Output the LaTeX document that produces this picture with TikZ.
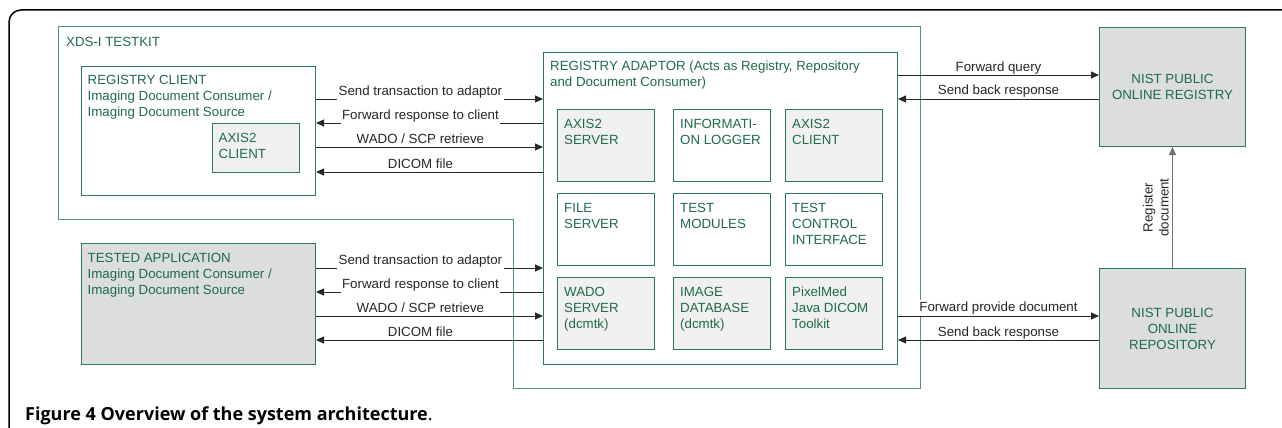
\documentclass[tikz,border=0pt]{standalone}
\usepackage{fontspec}
\setmainfont{Liberation Sans}
\newfontfamily\capfont{Open Sans}
\usetikzlibrary{arrows.meta,positioning}

\definecolor{boxgreen}{HTML}{2B7A5A}
\definecolor{kitgreen}{HTML}{4E9279}
\definecolor{txtgreen}{HTML}{1E6B48}
\definecolor{lightbox}{HTML}{F0F0F0}
\definecolor{darkbox}{HTML}{DCDDDF}
\definecolor{msgline}{HTML}{262626}

\newcommand{\fs}{\fontsize{13.3}{16}\selectfont}

\tikzset{
  box/.style={draw=boxgreen, line width=1pt, anchor=north west, inner sep=0pt},
  txt/.style={text=txtgreen, anchor=north west, align=left, inner sep=0pt, font=\fs},
  ctxt/.style={text=txtgreen, align=center, inner sep=0pt, font=\fs},
  fw/.style={draw=msgline, line width=0.9pt, -{Triangle[length=8pt,width=7pt]}},
  bw/.style={draw=msgline, line width=0.9pt, {Triangle[length=8pt,width=7pt]}-},
  lbl/.style={fill=white, inner sep=1.5pt, anchor=base, font=\fs, text=black!85},
}

\begin{document}
\begin{tikzpicture}[x=1pt,y=-1pt]
  \useasboundingbox (0,0) rectangle (1282,428);
  % figure frame
  \draw[line width=1.5pt, rounded corners=12pt] (1300,10) -- (9,10) -- (9,450);

  % testkit outline
  \draw[kitgreen, line width=1pt] (58,27) -- (920,27) -- (920,388) -- (513,388)
    -- (513,219) -- (58,219) -- cycle;
  \node[txt] (kit) at (66,37) {XDS-I TESTKIT};

  % clients
  \node[box, minimum width=234, minimum height=129] (rc) at (81,66) {};
  \node[txt] (rctxt) at (87.5,75) {REGISTRY CLIENT\\Imaging Document Consumer /\\Imaging Document Source};
  \node[box, fill=lightbox, minimum width=87, minimum height=49] (ax) at (212,123) {};
  \node[txt] (axtxt) at (218.5,133) {AXIS2\\CLIENT};

  \node[box, fill=darkbox, minimum width=234, minimum height=121] (ta) at (81,243) {};
  \node[txt] (tatxt) at (87.5,253) {TESTED APPLICATION\\Imaging Document Consumer /\\Imaging Document Source};

  % adaptor
  \node[box, minimum width=354, minimum height=312] (ad) at (543,52) {};
  \node[txt] (adtxt) at (550,60.5) {REGISTRY ADAPTOR (Acts as Registry, Repository\\and Document Consumer)};

  \foreach \x/\y/\c/\n/\t in {
      557/109/lightbox/as/{AXIS2\\SERVER},
      673/109/white/il/{INFORMATI-\\ON LOGGER},
      785/109/lightbox/ac/{AXIS2\\CLIENT},
      557/193/white/fsv/{FILE\\SERVER},
      673/193/white/tm/{TEST\\MODULES},
      785/193/white/tc/{TEST\\CONTROL\\INTERFACE},
      557/277/lightbox/ws/{WADO\\SERVER\\(dcmtk)},
      673/277/lightbox/idb/{IMAGE\\DATABASE\\(dcmtk)},
      785/277/lightbox/pm/{PixelMed\\Java DICOM\\Toolkit}}
  {
    \node[box, fill=\c, minimum width=97, minimum height=72] (\n) at (\x,\y) {};
    \node[txt] (\n txt) at ([shift={(7,10)}]\n.north west) {\t};
  }

  % NIST services
  \node[box, fill=darkbox, minimum width=146, minimum height=119] (reg) at (1099,27) {};
  \node[ctxt] (regtxt) at (reg.center) {NIST PUBLIC\\ONLINE REGISTRY};
  \node[box, fill=darkbox, minimum width=146, minimum height=120] (repo) at (1099,268) {};
  \node[ctxt] (repotxt) at (repo.center) {NIST PUBLIC\\ONLINE\\REPOSITORY};

  % messages
  \foreach \y/\d/\t in {99/fw/Send transaction to adaptor, 123/bw/Forward response to client,
      147/fw/{WADO / SCP retrieve}, 172/bw/DICOM file}
    \draw[\d] (rc.east |- 0,\y) -- (ad.west |- 0,\y) node[lbl, pos=0.46, yshift=3.5pt] {\t};
  \foreach \y/\d/\t in {268/fw/Send transaction to adaptor, 292/bw/Forward response to client,
      316/fw/{WADO / SCP retrieve}, 340/bw/DICOM file}
    \draw[\d] (ta.east |- 0,\y) -- (ad.west |- 0,\y) node[lbl, pos=0.46, yshift=3.5pt] {\t};

  \draw[fw] (ad.east |- 0,75) -- (reg.west |- 0,75) node[lbl, pos=0.5, yshift=4pt] {Forward query};
  \draw[bw] (ad.east |- 0,99) -- (reg.west |- 0,99) node[lbl, pos=0.5, yshift=4pt] {Send back response};
  \draw[fw] (ad.east |- 0,316) -- (repo.west |- 0,316) node[lbl, pos=0.5, yshift=4.5pt] {Forward provide document};
  \draw[bw] (ad.east |- 0,340) -- (repo.west |- 0,340) node[lbl, pos=0.5, yshift=4pt] {Send back response};

  \draw[draw=black!55, line width=1.3pt, -{Triangle[length=8pt,width=7pt]}] (repo.north) -- (reg.south)
    node[midway, rotate=90, anchor=south, inner sep=3pt, align=center, font=\fs, text=black!85] (regdoc) {Register\\document};

  % caption
  \node[anchor=base west, inner sep=0pt, font=\capfont\fontsize{18}{20}\selectfont] (cap) at (25,420)
    {\textbf{Figure 4 Overview of the system architecture}.};
\end{tikzpicture}
\end{document}
